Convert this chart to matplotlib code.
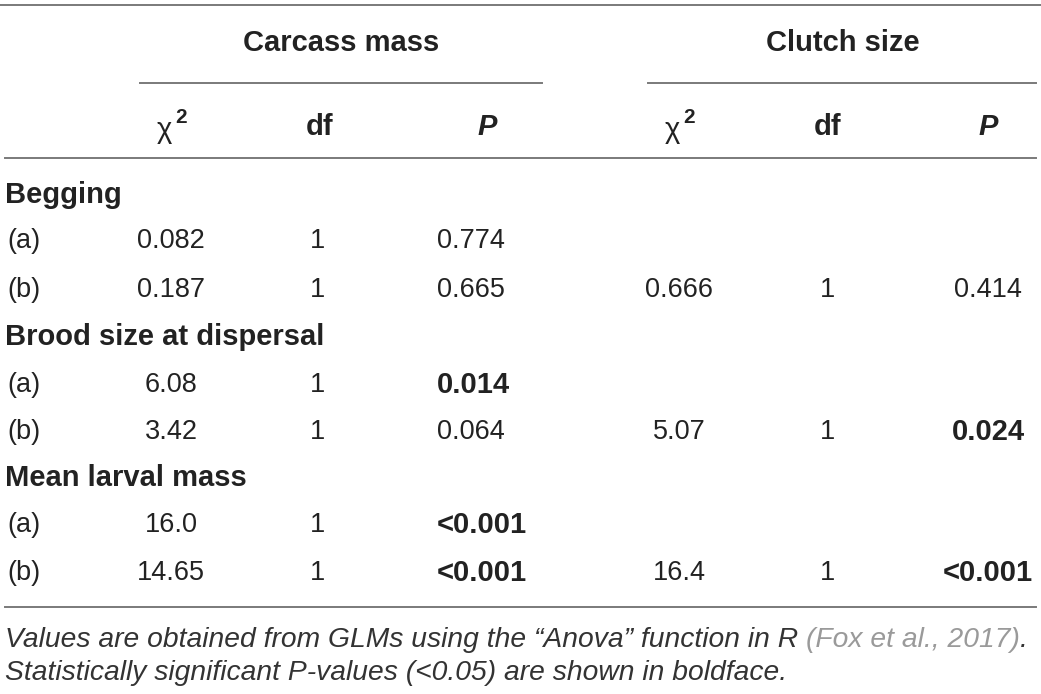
import matplotlib
matplotlib.use('Agg')
import matplotlib.pyplot as plt

plt.rcParams['font.family'] = ['Liberation Sans', 'DejaVu Sans']

# Table content
group_titles = ['Carcass mass', 'Clutch size']
col_heads = ['df', 'P']
sections = ['Begging', 'Brood size at dispersal', 'Mean larval mass']
sub_rows = ['(a)', '(b)']
carcass_chi2 = ['0.082', '0.187', '6.08', '3.42', '16.0', '14.65']
carcass_df = ['1', '1', '1', '1', '1', '1']
carcass_p = ['0.774', '0.665', '0.014', '0.064', '<0.001', '<0.001']
clutch_chi2 = ['', '0.666', '', '5.07', '', '16.4']
clutch_df = ['', '1', '', '1', '', '1']
clutch_p = ['', '0.414', '', '0.024', '', '<0.001']
note_1 = 'Values are obtained from GLMs using the \u201cAnova\u201d function in R '
note_cite = '(Fox et al., 2017)'
note_2 = 'Statistically significant P-values (<0.05) are shown in boldface.'

W, H = 1041, 694
fig = plt.figure(figsize=(W / 100, H / 100), dpi=100)
ax = fig.add_axes([0, 0, 1, 1])
ax.set_xlim(0, W)
ax.set_ylim(H, 0)
ax.axis('off')

fs = 19.5      # regular body text
bfs = 21       # bold text
txt = '#222222'
rule = '#7a7a7a'


def significant(p):
    return p != '' and float(p.replace('<', '')) < 0.05


# rules
ax.plot([0, W], [5, 5], color=rule, lw=1.4)
ax.plot([140, 542], [83, 83], color=rule, lw=1.4)
ax.plot([648, 1036], [83, 83], color=rule, lw=1.4)
ax.plot([5, 1036], [158, 158], color=rule, lw=1.4)
ax.plot([5, 1036], [607, 607], color=rule, lw=1.4)

# group titles
for title, xc in zip(group_titles, [341, 843]):
    ax.text(xc, 43, title, ha='center', va='center', fontsize=bfs,
            fontweight='bold', color=txt)

# column headers
for x0 in [172, 680]:
    ax.text(x0, 130, '\u03c7', ha='right', va='center', fontsize=21, color=txt)
    ax.text(x0 + 3, 117, '2', ha='left', va='center', fontsize=15,
            fontweight='bold', color=txt)
for x_df, x_p in [(320, 487), (828, 988)]:
    ax.text(x_df, 127, col_heads[0], ha='center', va='center', fontsize=bfs,
            fontweight='bold', color=txt)
    ax.text(x_p, 127, col_heads[1], ha='center', va='center', fontsize=bfs,
            fontweight='bold', style='italic', color=txt)

# body
sec_y = [195, 337, 478]
row_y = [241, 290, 385, 432, 525, 573]
for name, y in zip(sections, sec_y):
    ax.text(5, y, name, ha='left', va='center', fontsize=bfs,
            fontweight='bold', color=txt)

for i, y in enumerate(row_y):
    ax.text(7, y, sub_rows[i % 2], ha='left', va='center', fontsize=fs, color=txt)
    ax.text(171, y, carcass_chi2[i], ha='center', va='center', fontsize=fs, color=txt)
    ax.text(318, y, carcass_df[i], ha='center', va='center', fontsize=fs, color=txt)
    sig = significant(carcass_p[i])
    ax.text(437, y, carcass_p[i], ha='left', va='center',
            fontsize=bfs if sig else fs, color=txt,
            fontweight='bold' if sig else 'normal')
    ax.text(679, y, clutch_chi2[i], ha='center', va='center', fontsize=fs, color=txt)
    ax.text(828, y, clutch_df[i], ha='center', va='center', fontsize=fs, color=txt)
    sig = significant(clutch_p[i])
    ax.text(988, y, clutch_p[i], ha='center', va='center',
            fontsize=bfs if sig else fs, color=txt,
            fontweight='bold' if sig else 'normal')

# footnote
nfs = 20.3
renderer = fig.canvas.get_renderer()
t1 = ax.text(5, 640, note_1, ha='left', va='center', fontsize=nfs,
             style='italic', color='#333333')
bb = t1.get_window_extent(renderer)
x_next = ax.transData.inverted().transform((bb.x1, bb.y0))[0]
t2 = ax.text(x_next, 640, note_cite, ha='left', va='center', fontsize=nfs,
             style='italic', color='#9a9a9a')
bb = t2.get_window_extent(renderer)
x_next = ax.transData.inverted().transform((bb.x1, bb.y0))[0]
ax.text(x_next, 640, '.', ha='left', va='center', fontsize=nfs,
        style='italic', color='#333333')
ax.text(5, 673, note_2, ha='left', va='center', fontsize=nfs,
        style='italic', color='#333333')

fig.savefig('out.png', dpi=100)
